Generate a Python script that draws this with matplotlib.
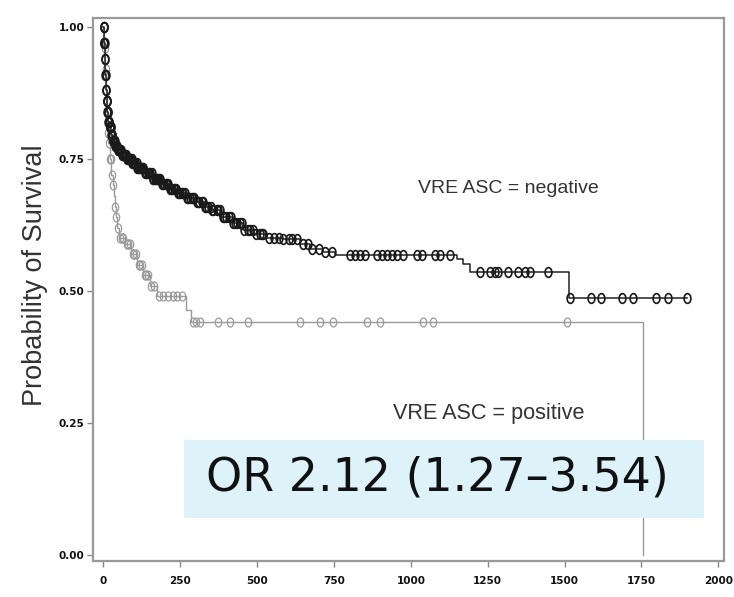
import numpy as np
import matplotlib
matplotlib.use("Agg")
import matplotlib.pyplot as plt
from matplotlib.markers import MarkerStyle
from matplotlib.patches import Rectangle
from matplotlib.transforms import Affine2D

# Kaplan-Meier step points (day, survival) for VRE ASC negative patients
neg_time = [0, 2, 4, 6, 8, 10, 13, 16, 20, 25, 30, 37, 45, 60, 75, 93, 110, 135,
            160, 190, 215, 242, 270, 298, 330, 352, 380, 420, 454, 490, 532, 580,
            640, 672, 714, 753, 1150, 1170, 1192, 1515]
neg_surv = [1.00, 0.97, 0.94, 0.91, 0.88, 0.86, 0.84, 0.82, 0.81, 0.795, 0.785,
            0.775, 0.768, 0.758, 0.750, 0.742, 0.734, 0.723, 0.713, 0.703, 0.694,
            0.685, 0.677, 0.668, 0.660, 0.654, 0.640, 0.628, 0.616, 0.608, 0.601,
            0.598, 0.590, 0.580, 0.574, 0.568, 0.560, 0.551, 0.536, 0.487]
neg_censor = [0.5, 1, 1.5, 2, 2.5, 3, 3.5, 4, 5, 6, 7, 8, 9, 10, 11, 12, 13, 14,
              15, 16, 17, 18, 19, 20, 21, 22, 23, 24, 26, 27, 28, 29, 31, 32, 33,
              35, 36, 38, 40, 41, 42, 44, 46, 47, 50, 52, 54, 55, 58, 60, 62, 65,
              67, 68, 71, 73, 74, 78, 80, 82, 85, 87, 89, 92, 94, 96, 100, 102,
              104, 108, 110, 112, 117, 119, 121, 126, 128, 130, 135, 138, 140, 146,
              148, 151, 157, 160, 162, 168, 170, 173, 179, 182, 185, 191, 194, 197,
              203, 206, 210, 216, 220, 223, 230, 233, 236, 243, 246, 250, 257, 260,
              264, 272, 276, 280, 288, 292, 296, 305, 309, 312, 320, 325, 330, 335,
              340, 350, 354, 358, 368, 373, 378, 388, 393, 398, 410, 416, 422, 428,
              435, 445, 452, 458, 470, 478, 485, 495, 510, 515, 520, 540, 555, 570,
              585, 605, 615, 630, 650, 665, 680, 700, 720, 745,
              802, 818, 834, 850, 889, 905, 922, 938, 954, 974, 1019, 1035, 1078,
              1094, 1127,
              1224, 1257, 1273, 1283, 1315, 1348, 1371, 1387, 1446,
              1517, 1585, 1618, 1686, 1722, 1797, 1836, 1897]

# Kaplan-Meier step points for VRE ASC positive patients
pos_time = [0, 3, 6, 9, 11, 14, 16, 20, 26, 30, 33, 36, 40, 45, 50, 70, 90, 110,
            130, 150, 175, 268, 285, 1755]
pos_surv = [1.00, 0.96, 0.92, 0.88, 0.84, 0.80, 0.78, 0.75, 0.72, 0.70, 0.68,
            0.66, 0.64, 0.62, 0.60, 0.59, 0.57, 0.55, 0.53, 0.51, 0.49, 0.465,
            0.441, 0.0]
pos_censor = [5, 8, 12, 15, 18, 22, 24, 28, 32, 38, 42, 48, 55, 60, 65, 75, 80,
              85, 95, 100, 105, 115, 120, 125, 135, 140, 145, 155, 165, 180, 195,
              210, 225, 240, 255,
              290, 300, 314, 372, 411, 470, 639, 705, 747, 857, 899, 1039, 1072,
              1507]

x_ticks = [0, 250, 500, 750, 1000, 1250, 1500, 1750, 2000]
y_ticks = [0.00, 0.25, 0.50, 0.75, 1.00]
y_label = "Probability of Survival"
neg_label = "VRE ASC = negative"
pos_label = "VRE ASC = positive"
odds_text = "OR 2.12 (1.27\u20133.54)"


def step_value(times, surv, t):
    idx = np.searchsorted(np.asarray(times), np.asarray(t), side="right") - 1
    return np.asarray(surv)[idx]


fig = plt.figure(figsize=(7.34, 5.97), dpi=100)
ax = fig.add_axes([0.1267, 0.0603, 0.8593, 0.9095])

tick_font = dict(family=["Liberation Sans Narrow", "DejaVu Sans"],
                 weight="bold", size=7.5)

ellipse = MarkerStyle("o", fillstyle="none",
                      transform=Affine2D().scale(0.7, 1.0))

# positive group (grey)
ax.step(pos_time, pos_surv, where="post", color="#9a9a9a", lw=1.0, zorder=2)
ax.plot(pos_censor, step_value(pos_time, pos_surv, pos_censor),
        linestyle="none", marker=ellipse, markersize=6.5,
        markeredgecolor="#9a9a9a", markeredgewidth=0.9, zorder=2)

# negative group (black)
neg_end = neg_censor[-1]
ax.step(neg_time + [neg_end], neg_surv + [neg_surv[-1]], where="post",
        color="#222222", lw=1.1, zorder=3)
ax.plot(neg_censor, step_value(neg_time, neg_surv, neg_censor),
        linestyle="none", marker=ellipse, markersize=7,
        markeredgecolor="#1a1a1a", markeredgewidth=1.2, zorder=3)

ax.set_xlim(-34, 2018)
ax.set_ylim(-0.011, 1.017)
ax.set_xticks(x_ticks)
ax.set_yticks(y_ticks)
ax.set_xticklabels([str(v) for v in x_ticks], fontdict=tick_font)
ax.set_yticklabels([f"{v:.2f}" for v in y_ticks], fontdict=tick_font)
ax.tick_params(direction="out", length=4, width=1.0, color="#888888",
               labelcolor="#111111")
ax.tick_params(axis="y", pad=2)
ax.tick_params(axis="x", pad=7)

for sp in ax.spines.values():
    sp.set_color("#999999")
    sp.set_linewidth(1.6)

fig.text(0.048, 0.539, y_label, rotation=90, ha="center", va="center",
         fontsize=19.5, family="Liberation Sans", color="#333333")

ax.text(1023, 0.695, neg_label, ha="left", va="center", fontsize=14,
        family="Liberation Sans", color="#333333")
ax.text(941, 0.269, pos_label, ha="left", va="center", fontsize=15.6,
        family="Liberation Sans", color="#333333")

# shaded annotation box with the odds ratio
ax.add_patch(Rectangle((262, 0.070), 1953 - 262, 0.148, facecolor="#ddf3f9",
                       edgecolor="none", zorder=5))
ax.text(1088, 0.146, odds_text, ha="center", va="center", fontsize=33,
        family="DejaVu Sans", color="#111111", zorder=6)

fig.savefig("out.png", dpi=100)
